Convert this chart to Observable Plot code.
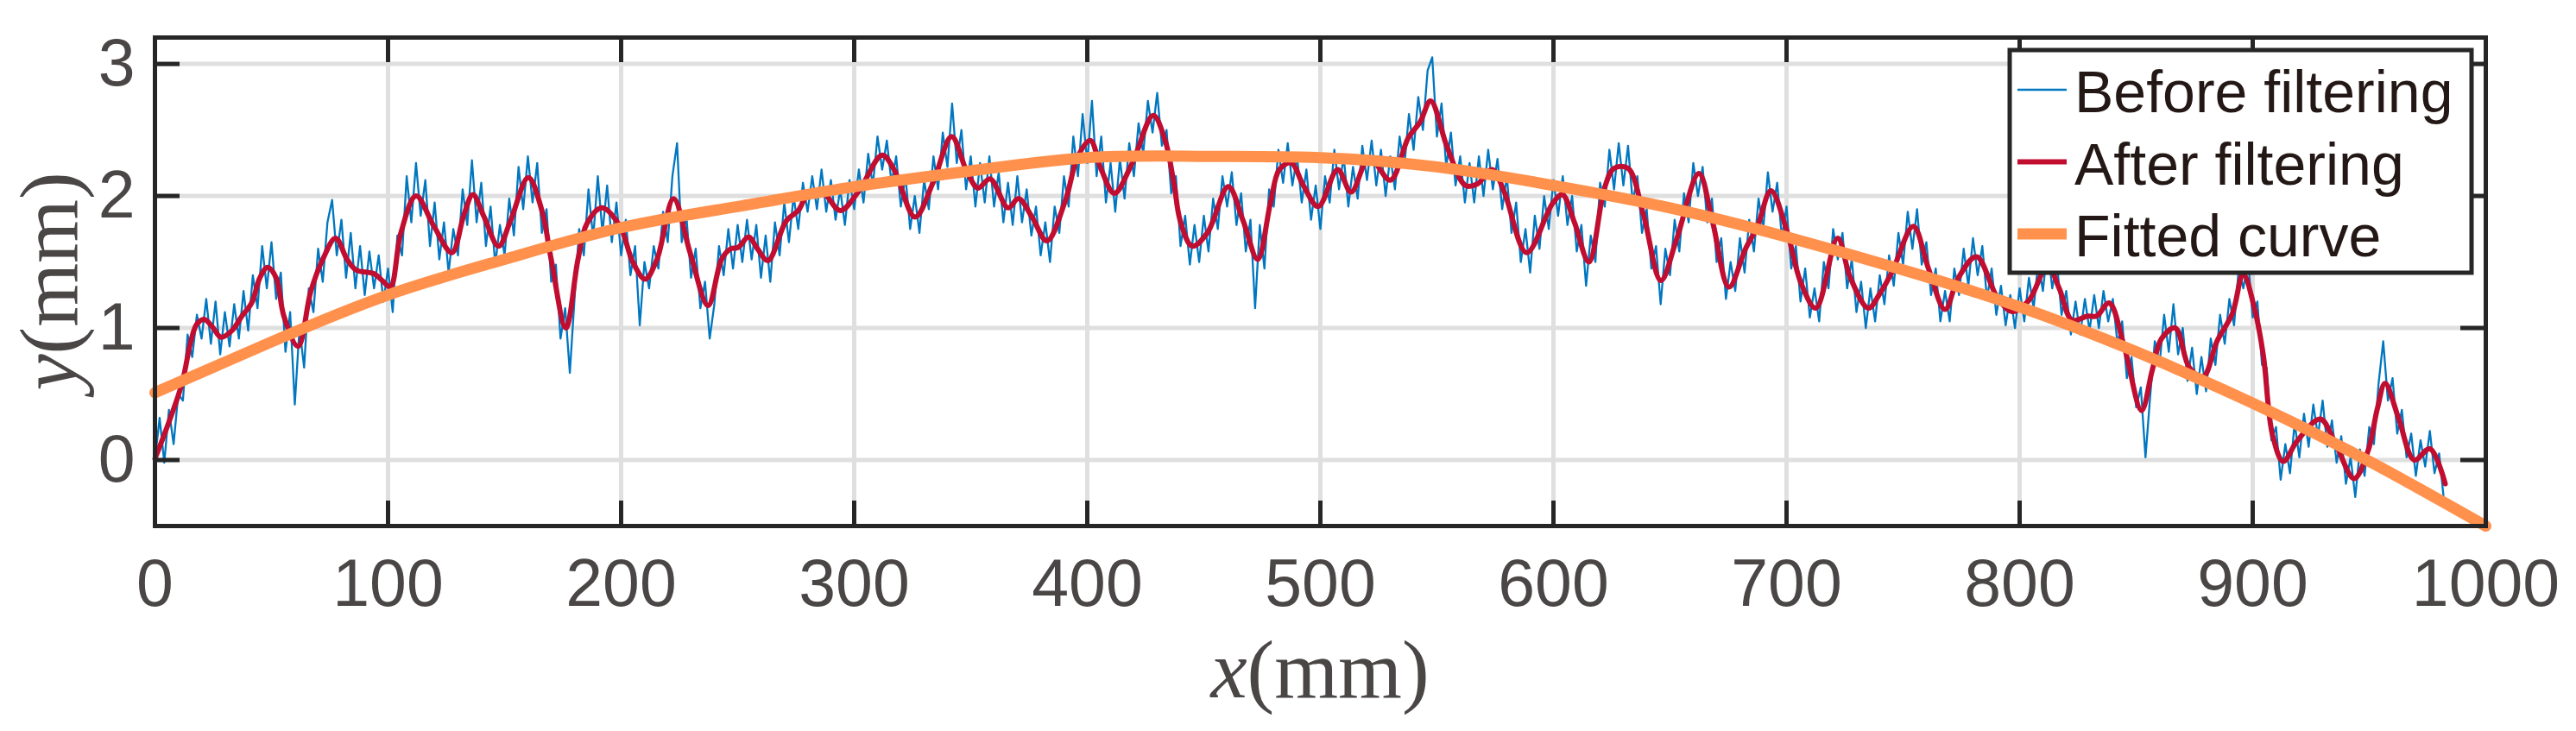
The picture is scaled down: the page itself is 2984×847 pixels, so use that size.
<!DOCTYPE html>
<html>
<head>
<meta charset="utf-8">
<script src="https://cdn.jsdelivr.net/npm/d3@7"></script>
<script src="https://cdn.jsdelivr.net/npm/@observablehq/plot@0.6"></script>
<style>
  html, body { margin: 0; padding: 0; background: #ffffff; }
  #chart svg { display: block; }
</style>
</head>
<body>
<div id="chart"></div>
<script>
// ---------- data ----------
const xTicks = [0, 100, 200, 300, 400, 500, 600, 700, 800, 900, 1000];
const yTicks = [0, 1, 2, 3];
const seriesNames = ["Before filtering", "After filtering", "Fitted curve"];

// Before filtering: sampled every 2 mm from x = 0
const beforeStep = 2;
const beforeY = [
0.00,0.32,-0.02,0.38,0.12,0.50,0.45,0.95,0.78,1.10,0.92,1.22,0.88,1.20,0.80,1.12,0.86,1.18,0.92,1.28,
0.98,1.40,1.15,1.62,1.30,1.65,1.22,1.42,0.82,1.12,0.42,1.00,0.70,1.30,1.12,1.60,1.35,1.80,1.97,1.55,
1.82,1.38,1.72,1.30,1.62,1.25,1.58,1.30,1.55,1.20,1.45,1.12,1.70,1.55,2.15,1.80,2.25,1.85,2.12,1.62,
1.95,1.52,1.80,1.42,1.75,1.55,2.05,1.78,2.27,1.80,2.10,1.62,1.92,1.48,1.78,1.55,1.98,1.70,2.22,1.90,
2.30,1.95,2.25,1.72,1.90,1.35,1.48,0.92,1.15,0.66,1.22,1.75,1.55,2.05,1.68,2.15,1.72,2.08,1.65,1.95,
1.55,1.82,1.40,1.62,1.02,1.50,1.30,1.62,1.45,1.88,1.65,2.15,2.40,1.65,1.85,1.38,1.60,1.15,1.35,0.92,
1.18,1.62,1.40,1.75,1.45,1.78,1.50,1.82,1.52,1.78,1.38,1.70,1.35,1.80,1.55,1.95,1.65,2.00,1.75,2.10,
1.88,2.15,1.90,2.20,1.88,2.12,1.82,2.05,1.78,2.12,1.90,2.20,1.95,2.32,2.08,2.45,2.20,2.42,2.10,2.30,
1.92,2.15,1.75,2.00,1.72,2.12,1.90,2.30,2.05,2.48,2.22,2.70,2.25,2.50,2.05,2.30,1.92,2.25,1.95,2.30,
1.92,2.18,1.80,2.10,1.78,2.15,1.80,2.05,1.70,1.92,1.55,1.80,1.50,1.92,1.72,2.15,1.92,2.45,2.15,2.62,
2.25,2.72,2.15,2.45,1.95,2.25,1.88,2.28,1.98,2.40,2.15,2.55,2.32,2.72,2.48,2.78,2.38,2.50,2.02,2.15,
1.62,1.85,1.48,1.78,1.50,1.85,1.58,1.98,1.75,2.15,1.92,2.18,1.78,2.02,1.58,1.82,1.15,1.78,1.45,2.05,
1.92,2.35,2.10,2.40,2.08,2.30,1.95,2.20,1.82,2.08,1.75,2.15,1.95,2.35,2.05,2.30,1.92,2.22,1.98,2.38,
2.12,2.42,2.08,2.35,2.00,2.30,2.05,2.45,2.22,2.62,2.35,2.75,2.50,2.95,3.05,2.45,2.70,2.22,2.48,2.08,
2.30,1.95,2.25,1.95,2.30,2.00,2.35,2.05,2.28,1.90,2.15,1.72,1.95,1.50,1.75,1.42,1.85,1.60,2.00,1.75,
2.12,1.85,2.15,1.78,2.00,1.58,1.78,1.32,1.70,1.50,2.10,1.92,2.35,2.05,2.40,2.08,2.38,1.95,2.15,1.72,
1.90,1.45,1.62,1.18,1.60,1.40,1.82,1.58,2.02,1.80,2.25,2.00,2.22,1.80,1.98,1.50,1.68,1.22,1.50,1.28,
1.68,1.42,1.82,1.58,1.98,1.75,2.18,1.88,2.10,1.68,1.92,1.45,1.62,1.20,1.45,1.08,1.30,1.05,1.50,1.30,
1.75,1.52,1.72,1.30,1.52,1.12,1.35,1.00,1.30,1.05,1.40,1.18,1.55,1.32,1.72,1.48,1.88,1.60,1.90,1.48,
1.65,1.25,1.45,1.05,1.28,1.05,1.45,1.25,1.60,1.32,1.68,1.40,1.62,1.22,1.45,1.10,1.32,1.02,1.25,1.00,
1.30,1.05,1.38,1.15,1.50,1.28,1.62,1.30,1.50,1.10,1.28,0.95,1.20,0.95,1.22,0.98,1.25,1.00,1.28,1.05,
1.22,0.88,1.05,0.62,0.78,0.40,0.55,0.02,0.48,0.90,0.72,1.10,0.82,1.18,0.80,1.00,0.60,0.85,0.50,0.78,
0.52,0.92,0.72,1.10,0.88,1.22,1.02,1.45,1.30,1.52,1.08,1.20,0.72,0.70,0.15,0.25,-0.15,0.12,-0.10,0.28,
0.02,0.35,0.10,0.42,0.18,0.45,0.10,0.30,-0.02,0.18,-0.18,0.02,-0.28,0.08,-0.12,0.25,0.12,0.58,0.90,0.45,
0.62,0.20,0.38,0.02,0.20,-0.12,0.15,-0.05,0.22,-0.10,0.05,-0.30,-0.38
];

// After filtering: key points
const afterX = [0,5,11.6,15.4,18,21.2,25,28.3,33,37.3,41.5,45,48.3,52,55.3,61.4,66.9,72,77.5,82.4,86.2,94,97.8,101,105.5,112,119.7,127.4,132.6,136.4,141,147.4,152.5,160.2,166,170,176.3,181.5,185.3,191.8,199.5,205,210.3,215.4,222.5,229.6,237.3,243.1,247,250.2,254.7,258.5,263,270.8,276,279.8,286.2,294,301.7,312,317.1,326.1,333.8,341.8,348,353.1,358.3,366,370.5,376.3,382.7,390.5,396,401.3,406,411.6,419.3,428.3,433.4,437.3,439.9,445,451.5,460.5,466.9,473.1,478.5,482.4,487.5,492.7,499.1,507.4,513.2,521,530,537.7,542.8,547.3,554.4,562.2,567.3,573.7,578.9,588.5,599.5,603.8,609,615.2,621.9,626,632,638.6,646.1,652.8,662.4,668.2,675.3,682.4,687.5,693.3,700.4,706,712.6,721.9,727.4,735.1,740,745.4,754.4,760.9,768,773.7,781.5,790.5,796.9,804,812,817,822.5,829.1,833,838.4,845,852.3,856.9,860.9,866.8,872.8,878.7,884.7,891.3,895.9,900.6,904.5,908.5,913.1,919.1,929,935,943.5,949.5,953.5,956.8,962.7,969.3,976,982.6];
const afterY = [0.01,0.24,0.58,0.90,1.03,1.065,1.0,0.93,0.98,1.09,1.19,1.38,1.46,1.38,1.09,0.86,1.28,1.52,1.68,1.52,1.44,1.41,1.355,1.31,1.72,2.0,1.77,1.57,1.86,2.01,1.85,1.62,1.81,2.14,1.89,1.52,1.0,1.52,1.79,1.91,1.77,1.5,1.37,1.52,1.98,1.57,1.17,1.52,1.6,1.61,1.69,1.6,1.51,1.81,1.89,2.0,2.03,1.89,2.03,2.31,2.2,1.84,2.1,2.45,2.2,2.06,2.13,1.91,1.98,1.84,1.66,1.96,2.3,2.42,2.2,2.02,2.25,2.61,2.42,2.08,1.81,1.62,1.72,2.07,1.81,1.52,1.94,2.2,2.25,2.08,1.92,2.2,2.03,2.29,2.12,2.44,2.56,2.72,2.37,2.08,2.09,2.2,2.03,1.57,1.94,2.01,1.8,1.5,2.06,2.21,2.21,1.86,1.36,1.67,2.17,1.81,1.31,1.6,1.77,2.04,1.72,1.35,1.15,1.68,1.38,1.15,1.26,1.43,1.77,1.45,1.14,1.38,1.54,1.23,1.125,1.21,1.47,1.3,1.06,1.09,1.09,1.19,0.85,0.375,0.68,0.92,1.0,0.7,0.63,0.9,1.11,1.41,1.16,0.8,0.19,-0.01,0.145,0.31,0.145,-0.14,0.07,0.39,0.58,0.31,0.0,0.085,-0.18];

// Fitted curve
const fitX = [0,50,100,150,200,250,300,350,400,450,500,550,600,650,700,750,800,850,900,950,1000];
const fitY = [0.51,0.895,1.25,1.52,1.76,1.92,2.07,2.19,2.29,2.30,2.29,2.22,2.08,1.91,1.69,1.44,1.16,0.82,0.43,-0.01,-0.5];

// ---------- tables ----------
const beforeData = beforeY.map((y, i) => ({x: i * beforeStep, y}));
const afterData = afterX.map((x, i) => ({x, y: afterY[i]}));
const fitData = fitX.map((x, i) => ({x, y: fitY[i]}));

// ---------- style ----------
const C_BEFORE = "#0077c0";
const C_AFTER = "#c00d30";
const C_FIT = "#ff914d";
const C_FRAME = "#262626";
const C_GRID = "#dfdfdf";
const C_TEXT = "#4a4646";
const SANS = "'Liberation Sans', Arial, Helvetica, sans-serif";
const SERIF = "'Liberation Serif', 'Times New Roman', serif";

const W = 2984, H = 847;
const mL = 179, mR = 105, mT = 43, mB = 238;
const TICK_LEN = 29;
const frameW = W - mL - mR;
const frameH = H - mT - mB;
const tickStyle = {stroke: C_FRAME, strokeWidth: 5, strokeOpacity: 1};

const chart = Plot.plot({
  width: W,
  height: H,
  marginLeft: mL,
  marginRight: mR,
  marginTop: mT,
  marginBottom: mB,
  style: {background: "#ffffff", fontFamily: SANS},
  x: {domain: [0, 1000], axis: null},
  y: {domain: [-0.5, 3.2], axis: null},
  marks: [
    Plot.gridX(xTicks, {stroke: C_GRID, strokeOpacity: 1, strokeWidth: 5}),
    Plot.gridY(yTicks, {stroke: C_GRID, strokeOpacity: 1, strokeWidth: 5}),
    Plot.line(beforeData, {x: "x", y: "y", stroke: C_BEFORE, strokeWidth: 2.3, strokeLinejoin: "round"}),
    Plot.line(afterData, {x: "x", y: "y", curve: "catmull-rom", stroke: C_AFTER, strokeWidth: 6, strokeLinejoin: "round"}),
    Plot.line(fitData, {x: "x", y: "y", curve: "natural", stroke: C_FIT, strokeWidth: 13}),
    Plot.frame({stroke: C_FRAME, strokeWidth: 5}),
    // inward ticks on all four sides
    Plot.tickX(xTicks, {x: d => d, insetTop: frameH - TICK_LEN, ...tickStyle}),
    Plot.tickX(xTicks, {x: d => d, insetBottom: frameH - TICK_LEN, ...tickStyle}),
    Plot.tickY(yTicks, {y: d => d, insetRight: frameW - TICK_LEN, ...tickStyle}),
    Plot.tickY(yTicks, {y: d => d, insetLeft: frameW - TICK_LEN, ...tickStyle}),
    // tick labels
    Plot.text(xTicks, {x: d => d, frameAnchor: "bottom", dy: 68, text: d => String(d), fontSize: 77, fill: C_TEXT, lineAnchor: "middle", textAnchor: "middle"}),
    Plot.text(yTicks, {y: d => d, frameAnchor: "left", dx: -23, text: d => String(d), fontSize: 77, fill: C_TEXT, lineAnchor: "middle", textAnchor: "end"})
  ]
});

document.getElementById("chart").appendChild(chart);

const svg = d3.select(chart);
const fTop = mT, fBottom = H - mB, fLeft = mL, fRight = W - mR;

// ---------- axis titles ----------
const xt = svg.append("text")
  .attr("x", (fLeft + fRight) / 2)
  .attr("y", 808)
  .attr("text-anchor", "middle")
  .attr("font-family", SERIF)
  .attr("font-size", 95)
  .attr("fill", C_TEXT);
xt.append("tspan").attr("font-style", "italic").text("x");
xt.append("tspan").text("(mm)");

const yt = svg.append("text")
  .attr("transform", `translate(89,${(fTop + fBottom) / 2}) rotate(-90)`)
  .attr("text-anchor", "middle")
  .attr("font-family", SERIF)
  .attr("font-size", 95)
  .attr("fill", C_TEXT);
yt.append("tspan").attr("font-style", "italic").text("y");
yt.append("tspan").text("(mm)");

// ---------- legend ----------
const legendColors = [C_BEFORE, C_AFTER, C_FIT];
const legendWidths = [2.5, 6, 13];
const lg = svg.append("g").attr("transform", "translate(2328,58)");
lg.append("rect")
  .attr("width", 535).attr("height", 258)
  .attr("fill", "#ffffff")
  .attr("stroke", C_FRAME).attr("stroke-width", 5);
seriesNames.forEach((name, i) => {
  const cy = 46 + i * 83.5;
  lg.append("line")
    .attr("x1", 9).attr("x2", 66)
    .attr("y1", cy).attr("y2", cy)
    .attr("stroke", legendColors[i])
    .attr("stroke-width", legendWidths[i]);
  lg.append("text")
    .attr("x", 75).attr("y", cy + 26)
    .attr("text-anchor", "start")
    .attr("font-family", SANS)
    .attr("font-size", 68)
    .attr("fill", "#231815")
    .text(name);
});
</script>
</body>
</html>
